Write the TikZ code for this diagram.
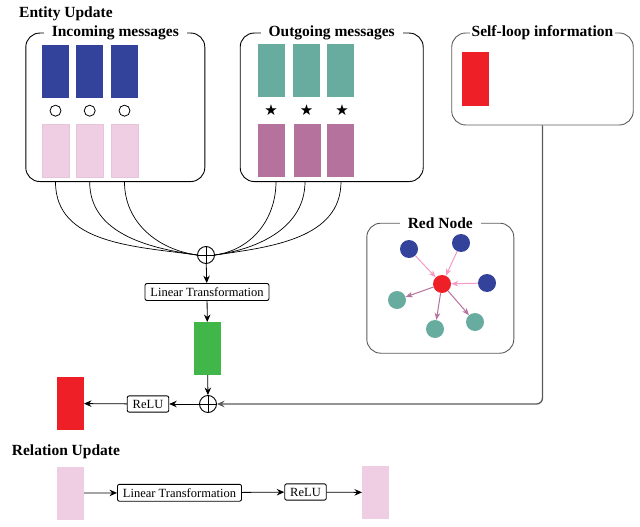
\documentclass[tikz,border=0pt]{standalone}
\usepackage{fontspec}
\setmainfont{Liberation Serif}
\newfontfamily\symfont{DejaVu Sans}
\usetikzlibrary{arrows.meta}
\definecolor{inblue}{RGB}{51,66,154}
\definecolor{inpink}{RGB}{239,205,227}
\definecolor{outteal}{RGB}{103,172,158}
\definecolor{outpurple}{RGB}{181,114,156}
\definecolor{selfred}{RGB}{238,31,39}
\definecolor{ltgreen}{RGB}{65,182,73}
\definecolor{arrpink}{RGB}{244,154,196}
\definecolor{linegray}{RGB}{90,90,90}
\tikzset{
	vec/.style={minimum width=27pt,minimum height=53pt,inner sep=0pt,outer sep=0pt},
	group/.style={draw,rounded corners=14pt,line width=0.9pt},
	title/.style={fill=white,inner ysep=2pt,inner xsep=8pt,font=\fontsize{15.5}{18}\selectfont\bfseries},
	op/.style={draw,rounded corners=2pt,line width=0.9pt,inner xsep=5.5pt,inner ysep=4pt,font=\fontsize{12.5}{14}\selectfont},
	sum/.style={circle,draw,line width=0.9pt,minimum size=17pt,inner sep=0pt,
		path picture={\draw (path picture bounding box.north) -- (path picture bounding box.south)
			(path picture bounding box.west) -- (path picture bounding box.east);}},
	arr/.style={-{Stealth[length=7.5pt,width=6.5pt,inset=2.5pt]},line width=0.8pt},
	dot/.style={circle,minimum size=18pt,inner sep=0pt},
	garr/.style={-{Stealth[length=7pt,width=5.5pt,inset=2pt]},line width=1pt}
}
\begin{document}
\begin{tikzpicture}[x=1pt,y=-1pt]
\useasboundingbox (0,0) rectangle (640,527);

\node[title,anchor=west,inner xsep=0pt] (enttitle) at (19,13.3) {Entity Update};

\node[group,minimum width=179pt,minimum height=148.5pt] (inbox) at (115.3,107.3) {};
\node[group,minimum width=183pt,minimum height=148.5pt] (outbox) at (331.7,107.3) {};
\node[group,draw=linegray,minimum width=181.5pt,minimum height=92pt] (selfbox) at (542.5,79) {};
\node[group,draw=linegray,minimum width=147pt,minimum height=130pt] (redbox) at (440.3,288.2) {};
\node[title] (intitle) at (inbox.north) {Incoming messages};
\node[title] (outtitle) at (outbox.north) {Outgoing messages};
\node[title,inner xsep=1.5pt] (selftitle) at (selfbox.north) {Self-loop information};
\node[title] (redtitle) at (redbox.north) {Red Node};

\foreach \x [count=\i] in {55.5,89.7,124.5} {
	\node[vec,fill=inpink,draw=inpink!90!gray,line width=0.4pt] (inl\i) at (\x,150.3) {};
	\node[vec,fill=inblue] (inr\i) at (\x,71.3) {};
	\node[circle,draw,line width=0.8pt,minimum size=11pt,inner sep=0pt] (inop\i) at (\x,110.7) {};
}
\foreach \x/\y/\s [count=\i] in {271.5/271.5/271,306.5/307.5/306.7,340.5/340.5/342} {
	\node[vec,fill=outteal] (outr\i) at (\x,70.5) {};
	\node[inner sep=0pt,font=\symfont\fontsize{15}{15}\selectfont] (outop\i) at (\s,110) {★};
	\node[vec,fill=outpurple] (outl\i) at (\y,150) {};
}
\node[vec,fill=selfred] (selfr) at (475.5,79) {};

\node[sum] (sum1) at (206,255) {};
\node[op] (lt1) at (207,292) {Linear Transformation};
\node[vec,fill=ltgreen] (green) at (207.5,348.5) {};
\node[sum] (sum2) at (208,404) {};
\node[op] (relu1) at (148,404) {ReLU};
\node[vec,fill=selfred] (ent) at (70.5,403.5) {};

\foreach \i in {1,2,3} {
	\draw[line width=0.7pt] (inl\i |- inbox.south) to[out=-90,in=172] (sum1.west);
}
\coordinate (oc1) at (276,181.6);
\coordinate (oc2) at (305,181.6);
\coordinate (oc3) at (341,181.6);
\foreach \i in {1,2,3} {
	\draw[line width=0.7pt] (oc\i) to[out=-90,in=8] (sum1.east);
}
\draw[arr] (sum1) -- (lt1);
\draw[arr] (lt1) -- (green);
\draw[arr] (green) -- (sum2);
\draw[arr] (sum2) -- (relu1);
\draw[arr] (relu1) -- (ent);
\draw[arr,draw=linegray,line width=1.3pt,rounded corners=6pt] (selfbox.south) |- (sum2);

\node[dot,fill=inblue] (b1) at (409,249) {};
\node[dot,fill=inblue] (b2) at (461,243) {};
\node[dot,fill=inblue] (b3) at (487,283) {};
\node[dot,fill=selfred] (rc) at (442,284) {};
\node[dot,fill=outteal] (t1) at (397,300) {};
\node[dot,fill=outteal] (t2) at (435,329) {};
\node[dot,fill=outteal] (t3) at (475,322) {};
\foreach \b in {b1,b2,b3}
	\draw[garr,arrpink] (\b) -- (rc);
\foreach \t in {t1,t2,t3}
	\draw[garr,outpurple] (rc) -- (\t);

\node[title,anchor=west,inner xsep=0pt] (reltitle) at (11.7,451.7) {Relation Update};
\node[vec,fill=inpink] (rel1) at (70.5,493) {};
\node[op] (lt2) at (179.5,492.8) {Linear Transformation};
\node[op] (relu2) at (305.5,492) {ReLU};
\node[vec,fill=inpink] (rel2) at (375.5,492.5) {};
\draw[arr] (rel1) -- (lt2);
\draw[arr] (lt2) -- (relu2);
\draw[arr] (relu2) -- (rel2);
\end{tikzpicture}
\end{document}
